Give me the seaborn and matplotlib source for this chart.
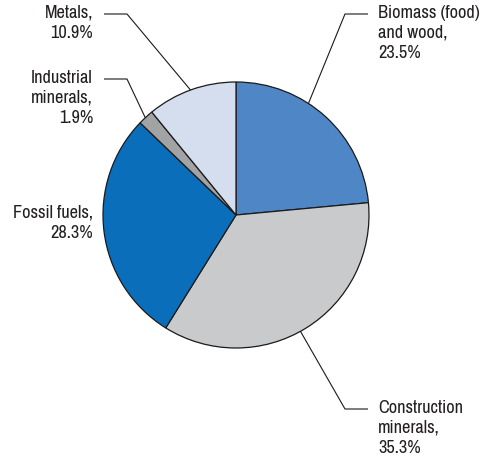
import numpy as np
import matplotlib.pyplot as plt
import seaborn as sns
from matplotlib import font_manager

# data
labels = ["Biomass (food)\nand wood,\n23.5%", "Construction\nminerals,\n35.3%",
          "Fossil fuels,\n28.3%", "Industrial\nminerals,\n1.9%", "Metals,\n10.9%"]
shares = [23.5, 35.3, 28.3, 1.9, 10.9]
colors = ["#4F86C6", "#C9CACC", "#0A6EBA", "#A2A3A5", "#D5DEEE"]

sns.set_theme(style="white")
names = {f.name for f in font_manager.fontManager.ttflist}
fam = "Archivo Narrow" if "Archivo Narrow" in names else "DejaVu Sans"
plt.rcParams["font.family"] = [fam, "DejaVu Sans"]

W, H = 485, 466
fig = plt.figure(figsize=(W / 100, H / 100), dpi=100)
ax = fig.add_axes([0, 0, 1, 1])

cx, cy, r = 236, H - 215, 133
ax.pie(shares, colors=colors, startangle=90, counterclock=False, radius=r,
       center=(cx, cy), frame=True,
       wedgeprops=dict(edgecolor="#1a1a1a", linewidth=0.9))
ax.set_xlim(0, W)
ax.set_ylim(0, H)
ax.set_aspect("equal")
ax.axis("off")

txt = "#231F20"
fs = 13.2
ls = 1.3

def edge(angle_cw):
    # angle measured clockwise from the top
    a = np.radians(angle_cw)
    return cx + r * np.sin(a), cy + r * np.cos(a)

# label layout: (text, anchor angle on pie, elbow, end of horizontal, text pos, align)
callouts = [
    (labels[0], 33, (345, H - 14), (368, H - 14), (378, H - 5), "left"),
    (labels[1], 151, (345, H - 409), (368, H - 409), (378, H - 400), "left"),
    (labels[3], 317, (127, H - 79), (104, H - 79), (93, H - 70), "right"),
    (labels[4], 340, (127, H - 14), (104, H - 14), (93, H - 5), "right"),
]
for lab, ang, elbow, hend, tpos, ha in callouts:
    x0, y0 = edge(ang)
    ax.plot([x0, elbow[0], hend[0]], [y0, elbow[1], hend[1]],
            color="#1a1a1a", lw=0.8, solid_capstyle="butt")
    ax.text(tpos[0], tpos[1], lab, ha=ha, va="top", fontsize=fs, color=txt,
            linespacing=ls, multialignment=ha)

ax.text(93, H - 205, labels[2], ha="right", va="top", fontsize=fs, color=txt,
        linespacing=ls, multialignment="right")

fig.savefig("out.png", dpi=100)
